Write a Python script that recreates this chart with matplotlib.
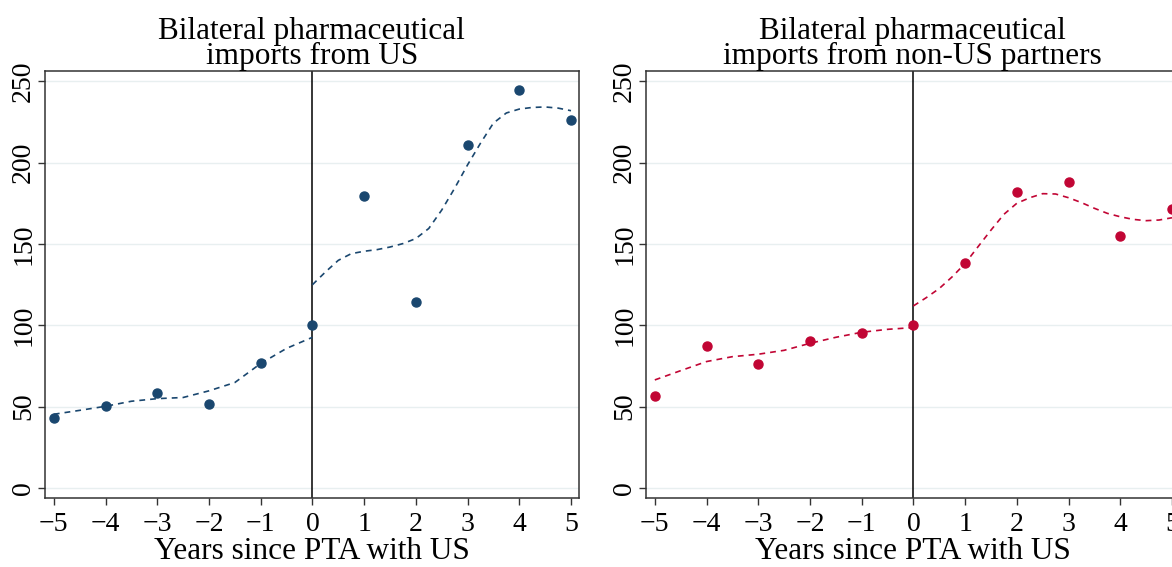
import matplotlib
matplotlib.use('Agg')
import matplotlib.pyplot as plt
import numpy as np

# event-time index (year 0 = 100)
years = [-5, -4, -3, -2, -1, 0, 1, 2, 3, 4, 5]
us_imports = [43.0, 50.4, 58.2, 51.5, 76.6, 100.0, 179.7, 114.4, 210.6, 244.9, 226.1]
nonus_imports = [56.6, 87.0, 76.2, 90.4, 95.1, 100.0, 138.0, 182.1, 187.9, 154.6, 171.5]

# smoothed fits (before / after PTA)
fit_x_pre = [-5, -4.5, -4, -3.5, -3, -2.5, -2, -1.5, -1, -0.5, 0]
us_fit_pre = [45.3, 47.7, 50.2, 53.3, 54.9, 55.6, 59.7, 64.8, 76.5, 85.8, 92.6]
nonus_fit_pre = [66.4, 72.1, 77.7, 80.7, 82.2, 84.6, 88.9, 92.6, 95.7, 97.5, 98.6]

fit_x_post = [0, 0.25, 0.5, 0.75, 1, 1.25, 1.5, 1.75, 2, 2.25, 2.5,
              2.75, 3, 3.25, 3.5, 3.75, 4, 4.25, 4.5, 4.75, 5]
us_fit_post = [124.9, 132.7, 139.9, 144.0, 145.5, 146.5, 148.1, 150.2, 153.3, 159.5, 170.8,
               184.2, 198.6, 211.9, 224.3, 230.5, 232.9, 233.9, 234.2, 233.5, 231.9]
nonus_fit_post = [111.9, 117.0, 122.6, 129.8, 138.0, 148.3, 158.5, 168.2, 175.0, 178.4, 180.9,
                  180.7, 178.4, 175.4, 171.9, 168.8, 166.7, 165.1, 164.3, 164.7, 166.1]

titles = ['Bilateral pharmaceutical\nimports from US',
          'Bilateral pharmaceutical\nimports from non-US partners']
xlab = 'Years since PTA with US'
yticks = [0, 50, 100, 150, 200, 250]

plt.rcParams['font.family'] = ['Liberation Serif', 'DejaVu Serif']

fig = plt.figure(figsize=(11.72, 5.67), dpi=100)
ax1 = fig.add_axes([0.03797, 0.1222, 0.45606, 0.7517])
ax2 = fig.add_axes([0.55077, 0.1222, 0.45606, 0.7517])

panels = [(ax1, us_imports, us_fit_pre, us_fit_post, '#1a476f', titles[0]),
          (ax2, nonus_imports, nonus_fit_pre, nonus_fit_post, '#c10534', titles[1])]

for ax, pts, fpre, fpost, col, ttl in panels:
    ax.set_xlim(-5.18, 5.155)
    ax.set_ylim(-6, 256)
    for yv in yticks:
        ax.axhline(yv, color='#e8eff0', lw=1.0, zorder=0)
    ax.axvline(0, color='black', lw=1.1, zorder=1)
    ax.plot(fit_x_pre, fpre, color=col, lw=1.2, dashes=(3.5, 3), zorder=2)
    ax.plot(fit_x_post, fpost, color=col, lw=1.2, dashes=(3.5, 3), zorder=2)
    ax.plot(years, pts, 'o', color=col, ms=6.5, mec=col, zorder=3, clip_on=False)
    ax.set_xticks(years)
    ax.set_yticks(yticks)
    ax.tick_params(axis='both', labelsize=20, length=5, width=1.0, color='#333333')
    ax.tick_params(axis='x', pad=5)
    ax.tick_params(axis='y', pad=1)
    for lab in ax.get_yticklabels():
        lab.set_rotation(90)
        lab.set_va('center')
    for s in ax.spines.values():
        s.set_linewidth(1.1)
        s.set_color('#333333')
    ax.set_xlabel(xlab, fontsize=22.5, labelpad=0.5)
    ax.set_title(ttl, fontsize=22.5, linespacing=0.82, pad=2)

fig.savefig('out.png', dpi=100)
